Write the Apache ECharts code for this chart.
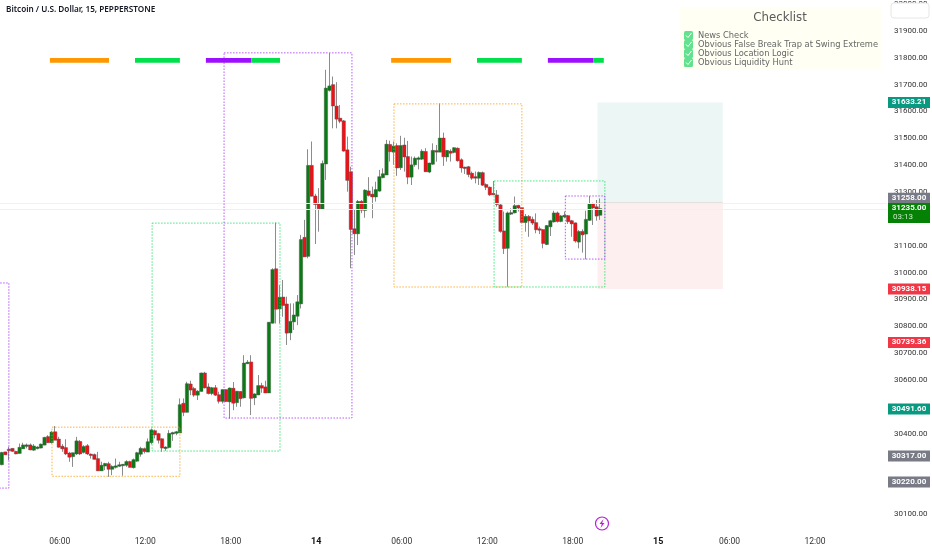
<!DOCTYPE html>
<html><head><meta charset="utf-8">
<style>html,body{margin:0;padding:0;background:#fff}#c{width:932px;height:550px}</style>
<script src="https://cdn.jsdelivr.net/npm/echarts@6/dist/echarts.min.js"></script>
</head><body><div id="c"></div>
<script>
const titleText = 'Bitcoin / U.S. Dollar, 15, PEPPERSTONE';
const opens = [30286,30330,30340,30343,30332,30328,30345,30355,30356,30340,
30347,30348,30359,30387,30368,30405,30378,30351,30346,30326,
30316,30326,30369,30332,30353,30322,30320,30305,30263,30281,
30286,30269,30277,30281,30283,30284,30294,30275,30299,30325,
30342,30333,30368,30409,30398,30379,30347,30350,30401,30403,
30404,30511,30481,30583,30566,30545,30559,30624,30572,30551,
30569,30543,30522,30562,30520,30567,30517,30555,30535,30663,
30665,30535,30546,30577,30572,30553,30813,31012,30866,30907,
30881,30777,30818,30839,30885,31129,31062,31397,31283,31254,
31237,31406,31680,31698,31618,31573,31563,31455,31373,31161,
31146,31263,31233,31302,31290,31283,31305,31355,31365,31475,
31450,31471,31392,31473,31430,31357,31403,31424,31424,31449,
31376,31405,31452,31450,31499,31432,31450,31449,31461,31418,
31391,31392,31368,31355,31353,31370,31326,31316,31293,31287,
31250,31153,31092,31220,31224,31248,31240,31188,31207,31196,
31184,31161,31158,31106,31172,31190,31220,31192,31210,31210,
31191,31183,31115,31151,31145,31196,31255,31243,31215];
const closes = [30328,30323,30339,30336,30326,30347,30356,30356,30341,30352,
30348,30359,30384,30368,30404,30377,30351,30345,30326,30314,
30327,30371,30326,30350,30326,30321,30306,30263,30280,30287,
30269,30276,30278,30282,30284,30294,30276,30301,30327,30343,
30335,30368,30412,30397,30377,30348,30348,30399,30402,30405,
30506,30481,30584,30564,30545,30556,30624,30572,30551,30569,
30545,30522,30562,30521,30568,30515,30556,30532,30661,30664,
30533,30546,30577,30571,30553,30813,31009,30865,30906,30879,
30776,30816,30840,30889,31121,31060,31397,31286,31255,31239,
31404,31685,31693,31622,31573,31565,31454,31345,31162,31146,
31263,31234,31305,31289,31283,31307,31355,31366,31476,31452,
31469,31391,31471,31432,31357,31399,31424,31425,31450,31377,
31406,31453,31451,31499,31433,31453,31446,31463,31418,31391,
31390,31367,31353,31354,31371,31327,31319,31291,31292,31255,
31155,31091,31220,31221,31247,31242,31188,31207,31194,31186,
31161,31160,31110,31173,31191,31220,31192,31209,31211,31191,
31183,31119,31151,31142,31196,31255,31242,31212,31236];
const lows = [30282,30320,30301,30332,30323,30326,30344,30345,30338,30336,
30341,30345,30357,30366,30363,30376,30348,30332,30320,30295,
30276,30320,30320,30326,30320,30307,30304,30261,30261,30264,
30239,30245,30270,30276,30243,30276,30274,30270,30295,30314,
30326,30332,30360,30382,30363,30332,30336,30345,30373,30394,
30403,30465,30480,30543,30537,30525,30556,30568,30546,30543,
30540,30512,30512,30518,30456,30487,30500,30500,30531,30659,
30469,30506,30543,30552,30552,30552,30810,30810,30810,30835,
30730,30748,30786,30804,30866,31059,31053,31283,31106,31152,
31233,31345,31674,31537,31537,31556,31450,31301,31016,31065,
31102,31221,31204,31283,31202,31264,31301,31351,31363,31413,
31401,31360,31382,31376,31329,31326,31394,31384,31419,31376,
31370,31401,31413,31449,31397,31413,31413,31444,31413,31372,
31367,31355,31345,31332,31326,31322,31307,31285,31288,31245,
31148,31069,30947,31214,31220,31227,31183,31152,31133,31177,
31146,31143,31090,31102,31136,31186,31186,31187,31202,31181,
31133,31111,31090,31074,31049,31193,31177,31193,31196];
const highs = [30332,30332,30351,30345,30336,30363,30366,30363,30363,30361,
30353,30363,30388,30394,30410,30428,30388,30361,30379,30332,
30328,30388,30376,30357,30361,30326,30326,30332,30295,30291,
30295,30282,30307,30295,30286,30301,30299,30307,30332,30351,
30348,30382,30419,30415,30403,30382,30353,30413,30407,30410,
30531,30531,30593,30597,30574,30562,30627,30630,30587,30574,
30581,30556,30564,30564,30572,30592,30559,30558,30692,30674,
30692,30550,30618,30589,30597,30814,31016,31186,30953,30972,
30910,30885,30885,30916,31140,31196,31459,31488,31293,31314,
31417,31755,31817,31730,31709,31624,31568,31506,31394,31233,
31270,31270,31310,31355,31320,31338,31382,31388,31494,31491,
31488,31481,31509,31502,31490,31432,31432,31432,31459,31463,
31409,31481,31475,31630,31521,31456,31459,31466,31466,31425,
31394,31397,31376,31376,31376,31376,31332,31320,31341,31307,
31258,31227,31227,31239,31283,31252,31243,31218,31214,31208,
31220,31171,31161,31177,31196,31230,31227,31214,31227,31214,
31196,31186,31158,31161,31230,31285,31260,31270,31276];

const barSlots = 249;
const tickSlots = [16,40,64,88,112,136,160,184,204,228];
const tickLabels = ['06:00','12:00','18:00','14','06:00','12:00','18:00','15','06:00','12:00'];
const hiddenPriceTicks = [30000,30200,30300,30500,31200];

const boxStart  = [-5, 14.6, 42.7, 62.9, 110.6, 138.7, 158.7];
const boxEnd    = [2.5, 50.5, 78.6, 98.8, 146.5, 169.8, 169.8];
const boxTop    = [30961, 30424, 31184, 31818, 31628, 31341, 31285];
const boxBottom = [30197, 30241, 30335, 30458, 30946, 30946, 31050];
const boxKinds  = ['purple','orange','green','purple','orange','green','purple'];

const stripStart = [14.0, 37.9, 57.8, 70.5, 109.8, 133.9, 153.8, 166.5];
const stripEnd   = [30.6, 50.5, 70.5, 78.6, 126.6, 146.5, 166.5, 169.5];
const stripHigh  = 31799, stripLow = 31781;
const stripKinds = ['orange','green','purple','green','orange','green','purple','green'];

const tradeStart = 167.7, tradeEnd = 202.9;
const tradeTarget = 31633.21, tradeEntry = 31258.00, tradeStop = 30938.15;
const lastPrice = 31235.00;

const tagPrices = [31633.21, 31258.00, 31235.00, 30938.15, 30739.36, 30491.60, 30317.00, 30220.00];
const tagKinds  = ['teal','grey','last','red','red','teal','grey','grey'];
const countdown = '03:13';

const checklistTitle = 'Checklist';
const checklistItems = ['News Check','Obvious False Break Trap at Swing Extreme','Obvious Location Logic','Obvious Liquidity Hunt'];

const kindColor = {purple:'#a020f8',orange:'#ff9800',green:'#00e050'};
const stripColor = {purple:'#9c10ff',orange:'#ff9800',green:'#00e04a'};
const tagColor = {teal:'#089981',grey:'#787b86',last:'#058205',red:'#f23645'};
const AXF = 'Roboto, "Liberation Sans", sans-serif';

const categories = Array.from({length:barSlots},(_,i)=>String(i));
const candles = opens.map((o,i)=>[o,closes[i],lows[i],highs[i]]);

const chart = echarts.init(document.getElementById('c'),null,{renderer:'canvas'});

function checkIcon(y){
  return [
    {type:'rect',shape:{x:684,y:y-4.5,width:9,height:9,r:1.5},style:{fill:'#62e28e'},z:21},
    {type:'polyline',shape:{points:[[686,y],[688,y+2],[691.5,y-2.5]]},style:{stroke:'#fff',lineWidth:1,fill:null},z:22}
  ];
}
const graphics = [
  {type:'text',left:6,top:6,z:20,style:{text:titleText,font:'600 8.2px "Noto Sans", sans-serif',fill:'#131722'}},
  {type:'rect',shape:{x:680,y:7,width:201,height:62},style:{fill:'#fffff4'},z:20},
  {type:'text',z:21,style:{x:780,y:17.5,text:checklistTitle,font:'11.8px "DejaVu Sans", sans-serif',fill:'#5a5a5a',textAlign:'center',textVerticalAlign:'middle'}},
  {type:'rect',shape:{x:891,y:3,width:38,height:15,r:3},style:{fill:'#fff',stroke:'#e6e6e6'},z:30},
  {type:'circle',shape:{cx:602,cy:523.5,r:6.5},style:{fill:'#fff',stroke:'#b520d8',lineWidth:1.2},z:20},
  {type:'polygon',shape:{points:[[603.5,519],[599.5,524],[601.8,524],[600.5,528],[604.5,523],[602.2,523]]},style:{fill:'#b520d8'},z:21}
];
checklistItems.forEach((t,k)=>{
  const y = 35.5 + k*9;
  graphics.push(...checkIcon(y));
  graphics.push({type:'text',z:21,style:{x:698,y:y,text:t,font:'8.3px "DejaVu Sans", sans-serif',fill:'#666',textVerticalAlign:'middle'}});
});

chart.setOption({
  animation:false,
  backgroundColor:'#fff',
  grid:{left:0,right:45,top:4,bottom:9,containLabel:false},
  xAxis:[
    {type:'category',data:categories,boundaryGap:true,axisLine:{show:false},axisTick:{show:false},splitLine:{show:false},
     axisLabel:{margin:-4,padding:[0,0,0,2],interval:(i)=>tickSlots.includes(i),
       formatter:(v,i)=>{const k=tickSlots.indexOf(i);if(k<0)return '';const s=tickLabels[k];return s.length===2?'{b|'+s+'}':s;},
       color:'#333',fontFamily:AXF,fontSize:8.5,rich:{b:{fontWeight:'bold',color:'#111',fontFamily:AXF,fontSize:9}}}},
    {type:'value',min:0,max:barSlots,show:false,splitLine:{show:false}}
  ],
  yAxis:{type:'value',position:'right',min:30000,max:32000,interval:100,scale:true,
    axisLine:{show:false},axisTick:{show:false},splitLine:{show:false},
    axisLabel:{margin:7,color:'#333',fontFamily:AXF,fontSize:8,align:'left',
      formatter:v=>hiddenPriceTicks.includes(v)?'':v.toFixed(2)}},
  graphic:graphics,
  series:[
    {type:'custom',name:'trade',xAxisIndex:1,yAxisIndex:0,z:1,silent:true,
     data:[[tradeStart,tradeEnd,tradeTarget,tradeEntry,0],[tradeStart,tradeEnd,tradeEntry,tradeStop,1]],
     renderItem(p,api){
       const a=api.coord([api.value(0),api.value(2)]),b=api.coord([api.value(1),api.value(3)]);
       return {type:'rect',shape:{x:a[0],y:a[1],width:b[0]-a[0],height:b[1]-a[1]},
         style:{fill:api.value(4)===0?'#ecf7f5':'#fdefef'}};
     }},
    {type:'candlestick',name:'BTCUSD',xAxisIndex:0,yAxisIndex:0,z:3,data:candles,barWidth:2,silent:true,
     itemStyle:{color:'#0a7a14',color0:'#ee1116',borderColor:'#8c8c8c',borderColor0:'#8c8c8c',borderWidth:1},
     markLine:{silent:true,symbol:'none',label:{show:false},animation:false,
       data:[{yAxis:tradeEntry,lineStyle:{color:'#fdeede',width:1,type:'solid'}},
             {yAxis:lastPrice,lineStyle:{color:'#dcfaf4',width:1,type:'solid'}}]}},
    {type:'custom',name:'bodies',xAxisIndex:0,yAxisIndex:0,z:4,silent:true,
     data:opens.map((o,i)=>[i,o,closes[i]]),
     renderItem(p,api){
       const o=api.value(1),c=api.value(2);
       const a=api.coord([api.value(0),Math.max(o,c)]),b=api.coord([api.value(0),Math.min(o,c)]);
       return {type:'rect',shape:{x:a[0]-1.7,y:a[1]-.5,width:3.4,height:Math.max(b[1]-a[1]+1,1.5)},
         style:{fill:c>=o?'#0a7a14':'#ee1116',stroke:'#555',lineWidth:.4}};
     }},
    {type:'custom',name:'entry',xAxisIndex:1,yAxisIndex:0,z:2,silent:true,data:[[tradeStart,tradeEnd,tradeEntry]],
     renderItem(p,api){
       const a=api.coord([api.value(0),api.value(2)]),b=api.coord([api.value(1),api.value(2)]);
       return {type:'line',shape:{x1:a[0],y1:a[1],x2:b[0],y2:b[1]},style:{stroke:'#c9a89c',lineWidth:1}};
     }},
    {type:'custom',name:'boxes',xAxisIndex:1,yAxisIndex:0,z:5,silent:true,
     data:boxStart.map((s,i)=>[s,boxEnd[i],boxTop[i],boxBottom[i],i]),
     renderItem(p,api){
       const a=api.coord([api.value(0),api.value(2)]),b=api.coord([api.value(1),api.value(3)]);
       return {type:'rect',shape:{x:a[0],y:a[1],width:b[0]-a[0],height:b[1]-a[1]},
         style:{fill:null,stroke:kindColor[boxKinds[api.value(4)]],lineWidth:1,lineDash:[1.5,1.5],opacity:.75}};
     }},
    {type:'custom',name:'strips',xAxisIndex:1,yAxisIndex:0,z:6,silent:true,
     data:stripStart.map((s,i)=>[s,stripEnd[i],i]),
     renderItem(p,api){
       const a=api.coord([api.value(0),stripHigh]),b=api.coord([api.value(1),stripLow]);
       return {type:'rect',shape:{x:a[0],y:a[1],width:b[0]-a[0],height:b[1]-a[1]},
         style:{fill:stripColor[stripKinds[api.value(2)]]}};
     }},
    {type:'custom',name:'tags',xAxisIndex:1,yAxisIndex:0,z:10,silent:true,clip:false,
     data:tagPrices.map((v,i)=>[barSlots,v,i]),
     renderItem(p,api){
       const v=api.value(1),i=api.value(2),k=tagKinds[i];
       const c=api.coord([barSlots,v]);
       const last=k==='last';
       const h=last?20:11;
       const x=c[0]+1,y=c[1]-5.5-(v===tradeEntry?5:0)-(last?1:0);
       const kids=[
         {type:'rect',shape:{x,y,width:42,height:h},style:{fill:tagColor[k]}},
         {type:'text',style:{x:x+21,y:y+5.5,text:v.toFixed(2),fill:'#fff',font:'bold 8px '+AXF,textAlign:'center',textVerticalAlign:'middle'}}
       ];
       if(last)kids.push({type:'text',style:{x:x+5,y:y+14.5,text:countdown,fill:'#c8eac8',font:'8px '+AXF,textAlign:'left',textVerticalAlign:'middle'}});
       return {type:'group',children:kids};
     }}
  ]
});
</script></body></html>
